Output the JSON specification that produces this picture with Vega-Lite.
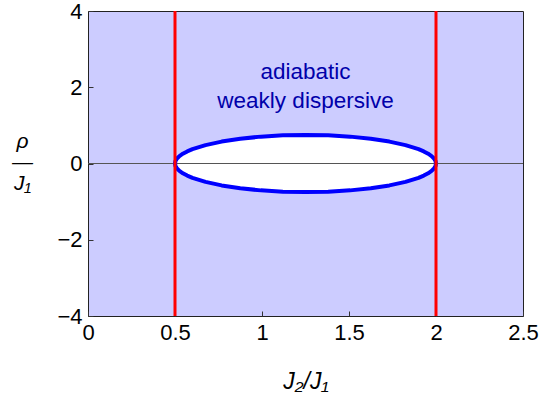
{
  "$schema": "https://vega.github.io/schema/vega-lite/v6.json",
  "width": 435,
  "height": 305,
  "autosize": {"type": "none"},
  "padding": {"left": 88, "top": 11, "right": 17, "bottom": 79},
  "background": "white",
  "datasets": {
    "ellipse": [
      {"t": 0, "x": 2.0, "y": 0},
      {"t": 5, "x": 1.99715, "y": 0.06537},
      {"t": 10, "x": 1.98861, "y": 0.13024},
      {"t": 15, "x": 1.97444, "y": 0.19411},
      {"t": 20, "x": 1.95477, "y": 0.25652},
      {"t": 25, "x": 1.92973, "y": 0.31696},
      {"t": 30, "x": 1.89952, "y": 0.375},
      {"t": 40, "x": 1.82453, "y": 0.48209},
      {"t": 50, "x": 1.73209, "y": 0.57453},
      {"t": 60, "x": 1.625, "y": 0.64952},
      {"t": 70, "x": 1.50652, "y": 0.70477},
      {"t": 80, "x": 1.38024, "y": 0.73861},
      {"t": 90, "x": 1.25, "y": 0.75},
      {"t": 100, "x": 1.11976, "y": 0.73861},
      {"t": 110, "x": 0.99348, "y": 0.70477},
      {"t": 120, "x": 0.875, "y": 0.64952},
      {"t": 130, "x": 0.76791, "y": 0.57453},
      {"t": 140, "x": 0.67547, "y": 0.48209},
      {"t": 150, "x": 0.60048, "y": 0.375},
      {"t": 155, "x": 0.57027, "y": 0.31696},
      {"t": 160, "x": 0.54523, "y": 0.25652},
      {"t": 165, "x": 0.52556, "y": 0.19411},
      {"t": 170, "x": 0.51139, "y": 0.13024},
      {"t": 175, "x": 0.50285, "y": 0.06537},
      {"t": 180, "x": 0.5, "y": 0},
      {"t": 185, "x": 0.50285, "y": -0.06537},
      {"t": 190, "x": 0.51139, "y": -0.13024},
      {"t": 195, "x": 0.52556, "y": -0.19411},
      {"t": 200, "x": 0.54523, "y": -0.25652},
      {"t": 205, "x": 0.57027, "y": -0.31696},
      {"t": 210, "x": 0.60048, "y": -0.375},
      {"t": 220, "x": 0.67547, "y": -0.48209},
      {"t": 230, "x": 0.76791, "y": -0.57453},
      {"t": 240, "x": 0.875, "y": -0.64952},
      {"t": 250, "x": 0.99348, "y": -0.70477},
      {"t": 260, "x": 1.11976, "y": -0.73861},
      {"t": 270, "x": 1.25, "y": -0.75},
      {"t": 280, "x": 1.38024, "y": -0.73861},
      {"t": 290, "x": 1.50652, "y": -0.70477},
      {"t": 300, "x": 1.625, "y": -0.64952},
      {"t": 310, "x": 1.73209, "y": -0.57453},
      {"t": 320, "x": 1.82453, "y": -0.48209},
      {"t": 330, "x": 1.89952, "y": -0.375},
      {"t": 335, "x": 1.92973, "y": -0.31696},
      {"t": 340, "x": 1.95477, "y": -0.25652},
      {"t": 345, "x": 1.97444, "y": -0.19411},
      {"t": 350, "x": 1.98861, "y": -0.13024},
      {"t": 355, "x": 1.99715, "y": -0.06537},
      {"t": 360, "x": 2.0, "y": 0}
    ],
    "walls": [{"x": 0.5}, {"x": 2.0}],
    "axisline": [{"y": 0}],
    "labels": [
      {"x": 1.25, "y": 2.4, "label": "adiabatic"},
      {"x": 1.25, "y": 1.63, "label": "weakly dispersive"}
    ]
  },
  "layer": [
    {
      "data": {"name": "ellipse"},
      "transform": [{"filter": "datum.t <= 180"}],
      "mark": {"type": "area", "color": "white", "opacity": 1},
      "encoding": {
        "x": {
          "field": "x", "type": "quantitative",
          "scale": {"domain": [0, 2.5], "nice": false, "zero": false},
          "axis": {
            "title": "J₂/J₁",
            "values": [0, 0.5, 1, 1.5, 2, 2.5],
            "format": "~g",
            "titleY": 72,
            "titleBaseline": "alphabetic"
          }
        },
        "y": {
          "field": "y", "type": "quantitative",
          "scale": {"domain": [-4, 4], "nice": false, "zero": false},
          "axis": {
            "title": ["ρ", "—", "J₁"],
            "values": [-4, -2, 0, 2, 4],
            "format": "~g",
            "titleAngle": 0,
            "titleX": -66,
            "titleY": 130,
            "titleAlign": "center",
            "titleBaseline": "middle",
            "titleFontSize": 21,
            "titleLineHeight": 21
          }
        },
        "y2": {"datum": 0}
      }
    },
    {
      "data": {"name": "ellipse"},
      "transform": [{"filter": "datum.t >= 180"}],
      "mark": {"type": "area", "color": "white", "opacity": 1},
      "encoding": {
        "x": {"field": "x", "type": "quantitative"},
        "y": {"field": "y", "type": "quantitative"},
        "y2": {"datum": 0}
      }
    },
    {
      "data": {"name": "axisline"},
      "mark": {"type": "rule", "color": "#555555", "strokeWidth": 1},
      "encoding": {
        "y": {"field": "y", "type": "quantitative"}
      }
    },
    {
      "data": {"name": "ellipse"},
      "mark": {"type": "line", "color": "#0000ff", "strokeWidth": 4, "strokeJoin": "round"},
      "encoding": {
        "x": {"field": "x", "type": "quantitative"},
        "y": {"field": "y", "type": "quantitative"},
        "order": {"field": "t", "type": "quantitative"}
      }
    },
    {
      "data": {"name": "walls"},
      "mark": {"type": "rule", "color": "#ff0000", "strokeWidth": 3},
      "encoding": {
        "x": {"field": "x", "type": "quantitative"}
      }
    },
    {
      "data": {"name": "labels"},
      "mark": {"type": "text", "color": "#0000aa", "fontSize": 22.5, "font": "Liberation Sans", "align": "center", "baseline": "middle"},
      "encoding": {
        "x": {"field": "x", "type": "quantitative"},
        "y": {"field": "y", "type": "quantitative"},
        "text": {"field": "label"}
      }
    }
  ],
  "config": {
    "font": "Liberation Sans",
    "view": {"fill": "#ccccff", "stroke": "#222222", "strokeWidth": 1},
    "axis": {
      "domain": false,
      "grid": false,
      "ticks": true,
      "tickSize": -5,
      "tickColor": "#333333",
      "labelFont": "Liberation Sans",
      "labelFontSize": 22,
      "labelColor": "black",
      "labelPadding": 11,
      "labelFlush": false,
      "labelOverlap": false,
      "titleFont": "Liberation Sans",
      "titleFontSize": 23,
      "titleFontStyle": "italic",
      "titleFontWeight": "normal",
      "titleColor": "black"
    }
  }
}
